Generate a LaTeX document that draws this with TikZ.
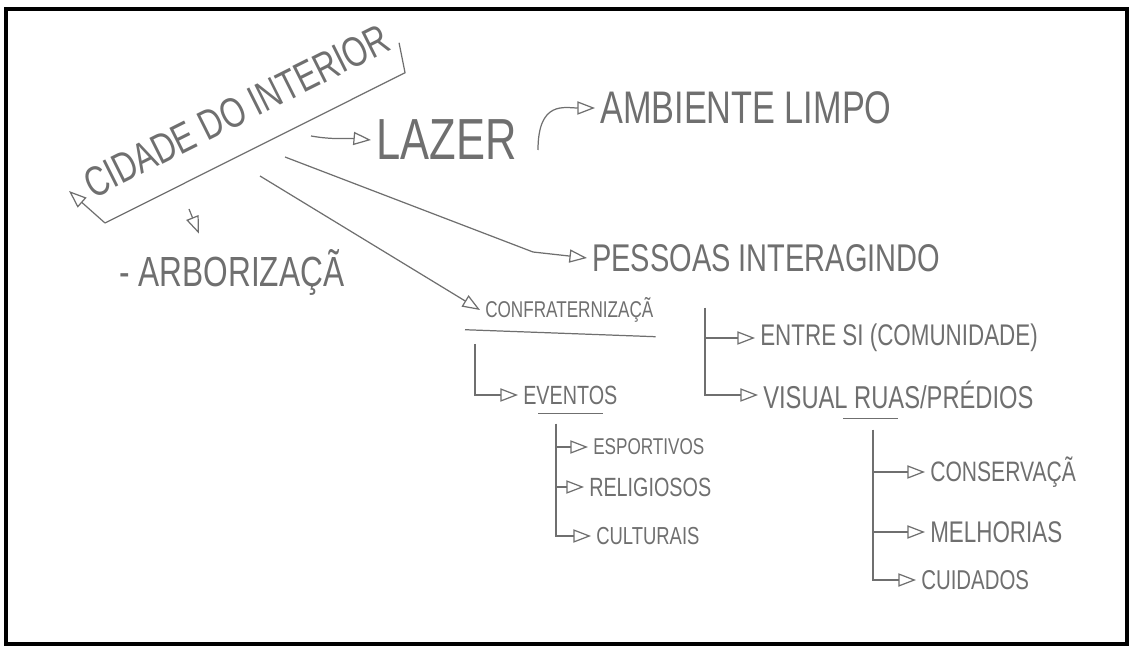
\documentclass[tikz,border=0pt]{standalone}
\usepackage{fontspec}
\setmainfont{Liberation Sans}[FakeStretch=0.75]
\usepackage{tikz}
\usetikzlibrary{arrows.meta,calc}
\definecolor{grafite}{HTML}{6F6F6F}

\begin{document}
\begin{tikzpicture}[x=0.02cm, y=-0.02cm,
  texto/.style={text=grafite, inner sep=0pt, outer sep=3pt, anchor=west},
  traco/.style={draw=grafite, line width=0.7pt},
  seta/.style={traco, -{Triangle[open, length=10pt, width=7.5pt]}}]
  \useasboundingbox (0,0) rectangle (1133,648);
  \draw[line width=2.3pt] (6,9) rectangle (1127,644);
  % ideia central
  \node[texto, anchor=south west, rotate=26.6, outer xsep=0pt, outer ysep=15pt, font=\fontsize{24}{24}\selectfont] (cidade) at (105,223) {CIDADE DO INTERIOR};
  \draw[seta] (cidade.south west) -- ++(-36,-32);
  \draw[traco] (cidade.south west) -- (cidade.south east) -- ++(-6,-30);
  % ramos
  \node[texto, font=\fontsize{24}{24}\selectfont] (arbor) at (114,272) {- ARBORIZAÇÃ};
  \node[texto, font=\fontsize{33}{33}\selectfont] (lazer) at (371,140) {LAZER};
  \node[texto, font=\fontsize{26}{26}\selectfont] (ambiente) at (595,108) {AMBIENTE LIMPO};
  \node[texto, font=\fontsize{22}{22}\selectfont] (pessoas) at (587,258) {PESSOAS INTERAGINDO};
  \node[texto, font=\fontsize{13}{13}\selectfont] (confra) at (480,310) {CONFRATERNIZAÇÃ};
  \node[texto, font=\fontsize{15}{15}\selectfont] (eventos) at (518,395) {EVENTOS};
  \node[texto, font=\fontsize{13}{13}\selectfont] (esportivos) at (588,447) {ESPORTIVOS};
  \node[texto, font=\fontsize{15}{15}\selectfont] (religiosos) at (584,487) {RELIGIOSOS};
  \node[texto, font=\fontsize{14}{14}\selectfont] (culturais) at (591,536) {CULTURAIS};
  \node[texto, font=\fontsize{17}{17}\selectfont] (entre) at (755,338) {ENTRE SI (COMUNIDADE)};
  \node[texto, font=\fontsize{18}{18}\selectfont] (visual) at (758,395) {VISUAL RUAS/PRÉDIOS};
  \node[texto, font=\fontsize{16}{16}\selectfont] (conservacao) at (925,472) {CONSERVAÇÃ};
  \node[texto, font=\fontsize{17}{17}\selectfont] (melhorias) at (925,532) {MELHORIAS};
  \node[texto, font=\fontsize{15.5}{15.5}\selectfont] (cuidados) at (916,580) {CUIDADOS};
  % pontos de saida
  \coordinate (c1) at (189,209);
  \coordinate (c2) at (311,136);
  \coordinate (c3) at (538,150);
  \coordinate (c4) at (285,157);
  \coordinate (c5) at (260,176);
  \coordinate (c6) at (475,344);
  \coordinate (c7) at (556,424);
  \coordinate (c8) at (705,308);
  \coordinate (c9) at (873,430);
  % ligacoes
  \draw[seta] (c1) -- ($(arbor.north west)+(85,-10)$);
  \draw[seta] (c2) to[out=-10, in=175] (lazer.west);
  \draw[seta] (c3) .. controls +(0,-50) and +(-30,0) .. (ambiente.west);
  \draw[seta] (c4) -- ++(248,95) -- (pessoas.west);
  \draw[seta] (c5) -- (confra.west);
  \draw[traco] ($(confra.south west)+(-15,2)$) -- ($(confra.south east)+(-3,9)$);
  \draw[seta] (c6) |- (eventos.west);
  \draw[traco] ($(eventos.south west)+(20,4)$) -- ($(eventos.south east)+(-20,4)$);
  \draw[seta] (c7) |- (esportivos.west);
  \draw[seta] (c7) |- (religiosos.west);
  \draw[seta] (c7) |- (culturais.west);
  \draw[seta] (c8) |- (entre.west);
  \draw[seta] (c8) |- (visual.west);
  \draw[traco] ($(visual.south west)+(85,4)$) -- ($(visual.south west)+(140,4)$);
  \draw[seta] (c9) |- (conservacao.west);
  \draw[seta] (c9) |- (melhorias.west);
  \draw[seta] (c9) |- (cuidados.west);
\end{tikzpicture}
\end{document}
